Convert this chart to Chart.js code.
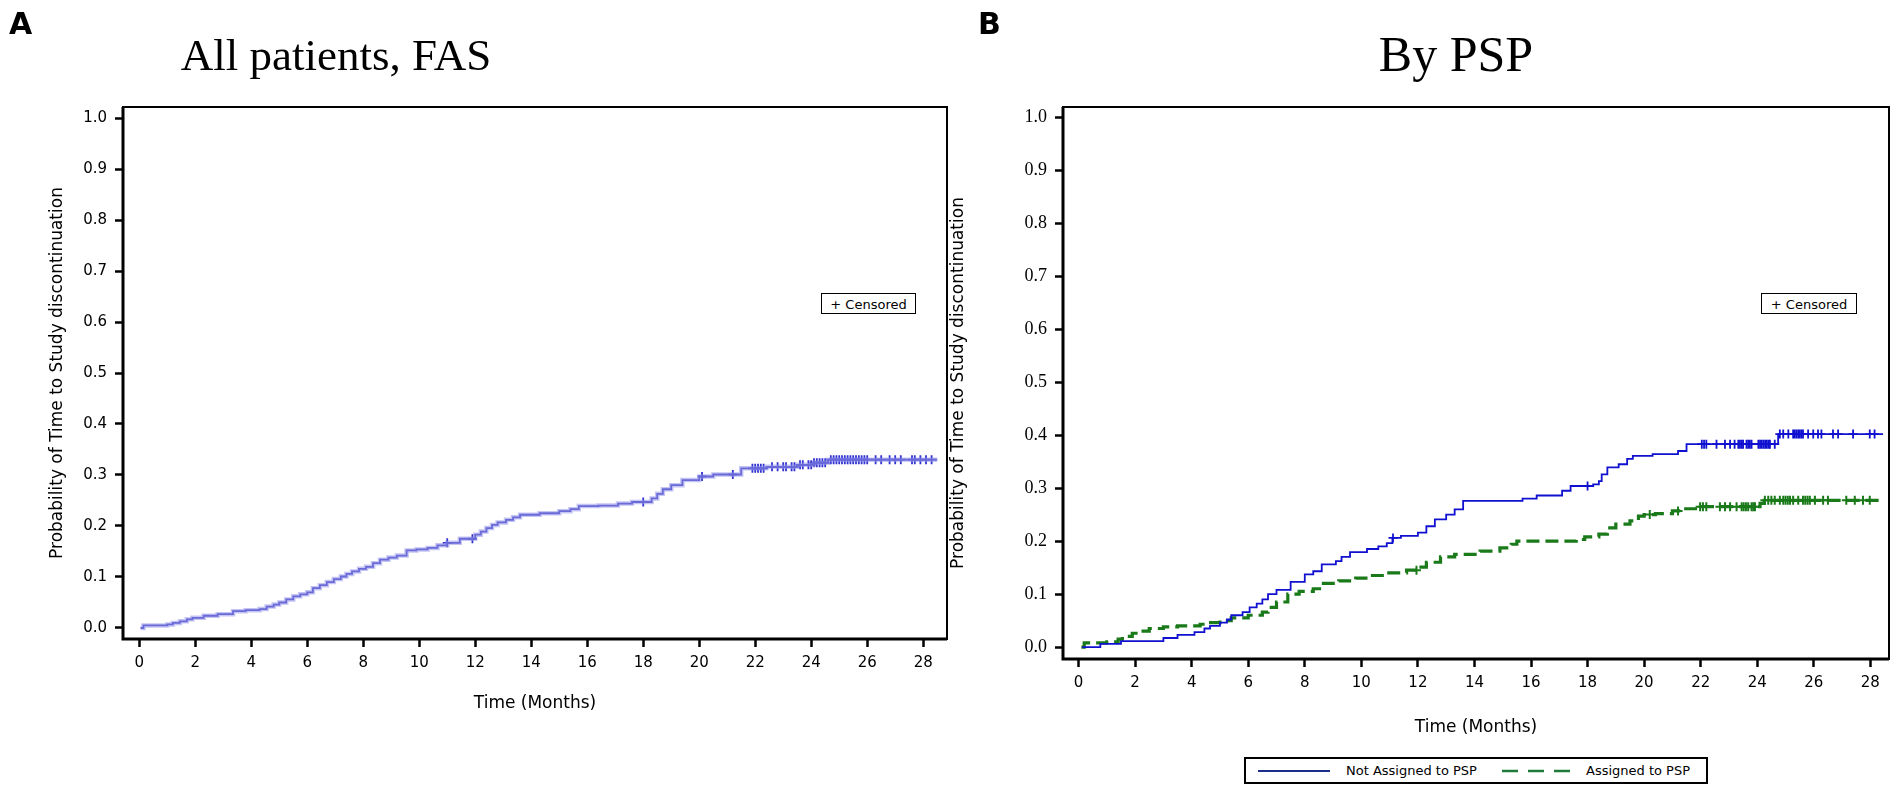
<!DOCTYPE html>
<html>
<head>
<meta charset="utf-8">
<script src="https://cdn.jsdelivr.net/npm/chart.js@4.4.1/dist/chart.umd.min.js"></script>
<style>
  html, body { margin: 0; padding: 0; background: #fff; }
  body { width: 1902px; height: 791px; position: relative; overflow: hidden; font-family: "DejaVu Sans", Verdana, sans-serif; }
  canvas { position: absolute; left: 0; top: 0; }
  .panel { position: absolute; font-family: "DejaVu Sans", sans-serif; font-weight: bold; font-size: 30px; line-height: 30px; color: #000; }
  .title { position: absolute; font-family: "Liberation Serif", "Times New Roman", serif; font-size: 45px; line-height: 50px; color: #000; transform: translateX(-50%); white-space: nowrap; }
  .cens { position: absolute; border: 1.5px solid #000; background: #fff; font-size: 13px; height: 21px; line-height: 21px; text-align: center; white-space: nowrap; box-sizing: border-box; }
  .leg { position: absolute; border: 2px solid #000; background: #fff; font-size: 13px; height: 27px; line-height: 23px; white-space: nowrap; box-sizing: border-box; }
  .leg span { position: absolute; top: 0; }
  .leg svg { position: absolute; top: 0; }
</style>
</head>
<body>
<canvas id="chartA" width="1902" height="791"></canvas>
<canvas id="chartB" width="1902" height="791"></canvas>

<div class="panel" style="left:9px; top:9px;">A</div>
<div class="panel" style="left:978px; top:9px;">B</div>
<div class="title" style="left:336px; top:30px;">All patients, FAS</div>
<div class="title" style="left:1456px; top:27px; font-size:50px; line-height:54px;">By PSP</div>
<div class="cens" style="left:821px; top:293px; width:95px;">+ Censored</div>
<div class="cens" style="left:1761px; top:293px; width:96px;">+ Censored</div>
<div class="leg" style="left:1244px; top:757px; width:464px;">
  <svg width="80" height="23" style="left:10px;"><line x1="2" y1="12" x2="74" y2="12" stroke="#1b2f8a" stroke-width="2"/></svg>
  <span style="left:100px;">Not Assigned to PSP</span>
  <svg width="80" height="23" style="left:256px;"><line x1="0" y1="12" x2="70" y2="12" stroke="#1e7b3a" stroke-width="2.5" stroke-dasharray="16,10"/></svg>
  <span style="left:340px;">Assigned to PSP</span>
</div>

<script>
// ---------------- DATA ----------------
const xTickValues = [0, 2, 4, 6, 8, 10, 12, 14, 16, 18, 20, 22, 24, 26, 28];
const yTickValues = [0.0, 0.1, 0.2, 0.3, 0.4, 0.5, 0.6, 0.7, 0.8, 0.9, 1.0];

// Panel A: all patients (FAS)
const allTimes = [0.05, 0.15, 1.0, 1.2, 1.45, 1.7, 1.9, 2.3, 2.8, 3.35, 3.8, 4.3, 4.55, 4.8, 5.0, 5.25, 5.5, 5.75, 6.0, 6.2, 6.45, 6.7, 6.95, 7.2, 7.4, 7.6, 7.85, 8.1, 8.35, 8.6, 8.9, 9.2, 9.55, 9.9, 10.3, 10.65, 11.0, 11.45, 12.0, 12.2, 12.4, 12.6, 12.8, 13.1, 13.35, 13.6, 14.3, 15.0, 15.4, 15.7, 16.4, 17.1, 17.6, 18.3, 18.5, 18.7, 19.0, 19.4, 20.0, 20.5, 21.5, 22.4, 23.5, 24.1, 24.6, 28.5];
const allProb  = [0.000, 0.005, 0.007, 0.010, 0.013, 0.017, 0.020, 0.024, 0.027, 0.033, 0.035, 0.037, 0.042, 0.046, 0.050, 0.056, 0.062, 0.066, 0.070, 0.078, 0.084, 0.090, 0.096, 0.101, 0.106, 0.111, 0.116, 0.120, 0.127, 0.134, 0.138, 0.142, 0.152, 0.154, 0.157, 0.162, 0.167, 0.175, 0.183, 0.189, 0.196, 0.202, 0.207, 0.212, 0.217, 0.222, 0.225, 0.229, 0.233, 0.239, 0.240, 0.244, 0.247, 0.254, 0.263, 0.272, 0.280, 0.290, 0.297, 0.301, 0.313, 0.316, 0.320, 0.324, 0.330, 0.330];
const allCensored = [11.0, 11.9, 18.0, 20.1, 21.2, 21.9, 22.0, 22.1, 22.2, 22.3, 22.6, 22.8, 23.0, 23.1, 23.3, 23.4, 23.6, 23.7, 23.9, 24.0, 24.1, 24.2, 24.3, 24.4, 24.5, 24.7, 24.8, 24.9, 25.0, 25.1, 25.2, 25.3, 25.4, 25.5, 25.6, 25.7, 25.8, 25.9, 26.0, 26.3, 26.5, 26.8, 27.0, 27.2, 27.6, 27.7, 27.9, 28.1, 28.3];

// Panel B: Not Assigned to PSP
const notPspTimes = [0.13, 0.77, 1.5, 3.0, 3.5, 4.1, 4.45, 4.65, 5.0, 5.25, 5.4, 5.8, 6.05, 6.3, 6.5, 6.7, 7.0, 7.5, 8.0, 8.3, 8.6, 9.1, 9.3, 9.6, 10.2, 10.6, 10.9, 11.1, 11.4, 12.0, 12.3, 12.6, 13.0, 13.3, 13.6, 15.7, 16.2, 17.1, 17.4, 18.2, 18.4, 18.5, 18.7, 19.1, 19.4, 19.6, 20.3, 21.2, 21.5, 24.74, 28.45];
const notPspProb  = [0.000, 0.006, 0.011, 0.017, 0.023, 0.028, 0.035, 0.040, 0.046, 0.052, 0.060, 0.066, 0.075, 0.082, 0.090, 0.100, 0.108, 0.123, 0.137, 0.143, 0.156, 0.162, 0.170, 0.179, 0.185, 0.190, 0.196, 0.206, 0.210, 0.216, 0.228, 0.241, 0.250, 0.260, 0.276, 0.280, 0.286, 0.295, 0.304, 0.307, 0.313, 0.326, 0.339, 0.345, 0.355, 0.361, 0.364, 0.370, 0.383, 0.402, 0.402];
const notPspCensored = [11.12, 18.0, 22.04, 22.12, 22.2, 22.56, 22.86, 23.04, 23.2, 23.33, 23.39, 23.45, 23.5, 23.62, 23.68, 23.74, 23.8, 24.04, 24.1, 24.16, 24.22, 24.28, 24.34, 24.4, 24.45, 24.62, 24.8, 24.92, 25.1, 25.27, 25.33, 25.39, 25.45, 25.51, 25.57, 25.62, 25.8, 25.98, 26.15, 26.27, 26.68, 26.86, 27.39, 27.98, 28.15];

// Panel B: Assigned to PSP
const pspTimes = [0.1, 0.2, 1.0, 1.4, 1.55, 1.9, 2.1, 2.5, 3.0, 3.5, 4.3, 4.6, 5.0, 5.4, 6.0, 6.5, 6.7, 7.0, 7.4, 7.8, 8.3, 8.6, 9.2, 9.8, 10.3, 10.9, 11.6, 12.0, 12.3, 12.8, 13.3, 14.2, 14.9, 15.3, 15.5, 17.6, 17.9, 18.4, 18.7, 19.0, 19.5, 19.8, 20.0, 20.4, 21.0, 21.4, 21.9, 24.1, 24.25, 28.5];
const pspProb  = [0.000, 0.008, 0.010, 0.015, 0.020, 0.026, 0.030, 0.035, 0.038, 0.040, 0.043, 0.046, 0.050, 0.055, 0.060, 0.066, 0.075, 0.085, 0.100, 0.105, 0.110, 0.120, 0.125, 0.130, 0.135, 0.140, 0.145, 0.151, 0.160, 0.170, 0.175, 0.181, 0.187, 0.194, 0.200, 0.203, 0.208, 0.213, 0.225, 0.232, 0.238, 0.247, 0.250, 0.252, 0.257, 0.261, 0.265, 0.271, 0.277, 0.277];
const pspCensored = [11.95, 20.2, 21.2, 21.98, 22.08, 22.2, 22.68, 22.86, 23.04, 23.27, 23.45, 23.52, 23.6, 23.68, 23.8, 23.86, 23.92, 24.27, 24.39, 24.5, 24.62, 24.8, 24.92, 25.0, 25.08, 25.16, 25.27, 25.45, 25.62, 25.7, 25.78, 25.86, 26.04, 26.33, 26.5, 27.15, 27.45, 27.74, 27.98];

// ---------------- HELPERS ----------------
function pts(times, probs) { return times.map((t, i) => ({ x: t, y: probs[i] })); }
function stepAt(times, probs, t) {
  let v = probs[0];
  for (let i = 0; i < times.length; i++) { if (times[i] <= t) v = probs[i]; else break; }
  return v;
}
function censPts(cens, times, probs) { return cens.map(t => ({ x: t, y: stepAt(times, probs, t) })); }

const boxPlugin = {
  id: 'boxPlugin',
  afterDraw(chart) {
    const a = chart.chartArea, ctx = chart.ctx;
    ctx.save();
    ctx.strokeStyle = '#000';
    ctx.lineWidth = 2;
    ctx.strokeRect(a.left, a.top, a.right - a.left, a.bottom - a.top);
    ctx.lineWidth = 3;
    ctx.beginPath();
    ctx.moveTo(a.left, a.top); ctx.lineTo(a.left, a.bottom); ctx.lineTo(a.right, a.bottom);
    ctx.stroke();
    ctx.restore();
  }
};

function makeOptions(cfg) {
  return {
    responsive: false,
    animation: false,
    devicePixelRatio: 1,
    layout: { padding: cfg.padding },
    plugins: { legend: { display: false }, tooltip: { enabled: false }, title: { display: false } },
    elements: { point: { radius: 0 } },
    scales: {
      x: {
        type: 'linear', min: cfg.xMin, max: cfg.xMax,
        afterFit(s) { s.height = cfg.xAxisHeight; },
        afterBuildTicks(s) { s.ticks = xTickValues.map(v => ({ value: v })); },
        ticks: { color: '#000', font: { family: 'DejaVu Sans', size: 15 }, padding: 7, maxRotation: 0, callback: v => String(v) },
        grid: { display: true, drawOnChartArea: false, drawTicks: true, tickLength: 8, tickColor: '#000', tickWidth: 2.5 },
        border: { display: false },
        title: { display: true, text: 'Time (Months)', color: '#000', font: { family: 'DejaVu Sans', size: 17 }, padding: { top: 0, bottom: 0 } }
      },
      y: {
        type: 'linear', min: cfg.yMin, max: cfg.yMax,
        afterFit(s) { s.width = cfg.yAxisWidth; },
        afterBuildTicks(s) { s.ticks = yTickValues.map(v => ({ value: v })); },
        ticks: { color: '#000', font: cfg.yTickFont, padding: 8, callback: v => Number(v).toFixed(1) },
        grid: { display: true, drawOnChartArea: false, drawTicks: true, tickLength: 8, tickColor: '#000', tickWidth: 2.5 },
        border: { display: false },
        title: { display: true, text: 'Probability of Time to Study discontinuation', color: '#000', font: { family: 'DejaVu Sans', size: 17 }, padding: { top: 0, bottom: 0 } }
      }
    }
  };
}

// ---------------- CHART A ----------------
new Chart(document.getElementById('chartA'), {
  type: 'line',
  data: {
    datasets: [
      { data: pts(allTimes, allProb), stepped: 'before', borderColor: 'rgba(150,150,235,0.55)', borderWidth: 4.5, pointRadius: 0, fill: false },
      { data: pts(allTimes, allProb), stepped: 'before', borderColor: '#3535c0', borderWidth: 1.8, pointRadius: 0, fill: false },
      { type: 'scatter', data: censPts(allCensored, allTimes, allProb), pointStyle: 'cross', pointRadius: 4.5, borderColor: '#3030d0', borderWidth: 1.8, backgroundColor: '#3030d0' }
    ]
  },
  options: makeOptions({
    padding: { left: 47, top: 107, right: 1902 - 947, bottom: 791 - 639 - 75 },
    xAxisHeight: 75, yAxisWidth: 123 - 47,
    xMin: -0.58, xMax: 28.85, yMin: -0.0216, yMax: 1.0216,
    yTickFont: { family: 'DejaVu Sans', size: 15 }
  }),
  plugins: [boxPlugin]
});

// ---------------- CHART B ----------------
new Chart(document.getElementById('chartB'), {
  type: 'line',
  data: {
    datasets: [
      { label: 'Not Assigned to PSP', data: pts(notPspTimes, notPspProb), stepped: 'before', borderColor: '#1010d0', borderWidth: 1.8, pointRadius: 0, fill: false },
      { label: 'Assigned to PSP', data: pts(pspTimes, pspProb), stepped: 'before', borderColor: '#1a7a1a', borderWidth: 3.2, borderDash: [13, 6], pointRadius: 0, fill: false },
      { type: 'scatter', data: censPts(notPspCensored, notPspTimes, notPspProb), pointStyle: 'cross', pointRadius: 4.5, borderColor: '#1010d0', borderWidth: 1.8 },
      { type: 'scatter', data: censPts(pspCensored, pspTimes, pspProb), pointStyle: 'cross', pointRadius: 4.5, borderColor: '#1a7a1a', borderWidth: 2 }
    ]
  },
  options: makeOptions({
    padding: { left: 948, top: 107, right: 1902 - 1889, bottom: 791 - 659 - 79 },
    xAxisHeight: 79, yAxisWidth: 1063 - 948,
    xMin: -0.55, xMax: 28.66, yMin: -0.0226, yMax: 1.0194,
    yTickFont: { family: 'Liberation Serif', size: 18 }
  }),
  plugins: [boxPlugin]
});
</script>
</body>
</html>
